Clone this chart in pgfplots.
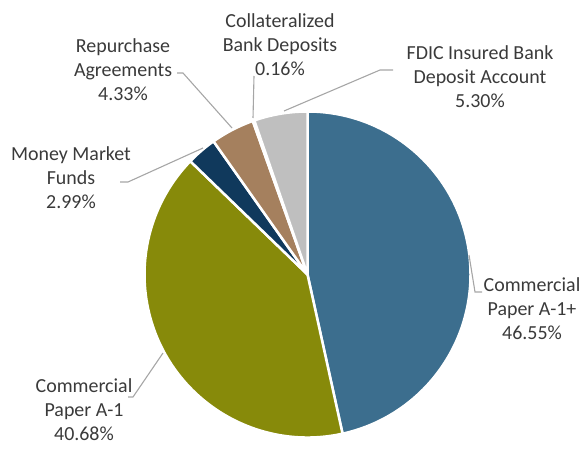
\documentclass[border=0pt]{standalone}
\usepackage{pgfplots}
\usepackage{pgfplotstable}
\pgfplotsset{compat=1.18}
\usepackage{fontspec}
\setmainfont{Carlito}
\definecolor{slice0}{HTML}{3C6E8E}
\definecolor{slice1}{HTML}{878A0A}
\definecolor{slice2}{HTML}{10395C}
\definecolor{slice3}{HTML}{A5805E}
\definecolor{slice4}{HTML}{D9D9D9}
\definecolor{slice5}{HTML}{BFBFBF}
\definecolor{leader}{HTML}{A6A6A6}
\definecolor{txt}{HTML}{3A3A3A}
\pgfplotstableread{
idx value
0 46.55
1 40.68
2 2.99
3 4.33
4 0.16
5 5.30
}\piedata
\begin{document}
\begin{tikzpicture}
\def\cum{0}
\pgfplotsforeachungrouped \i in {0,...,5}{%
  \pgfplotstablegetelem{\i}{value}\of\piedata
  \pgfmathsetmacro{\a}{90-3.6*\cum}%
  \pgfmathsetmacro{\newcum}{\cum+\pgfplotsretval}%
  \pgfmathsetmacro{\b}{90-3.6*\newcum}%
  \expandafter\xdef\csname sa\i\endcsname{\a}%
  \expandafter\xdef\csname ea\i\endcsname{\b}%
  \xdef\cum{\newcum}%
}
\begin{axis}[
  x=1bp, y=1bp, y dir=reverse,
  xmin=0, xmax=585, ymin=0, ymax=441,
  hide axis, scale only axis, clip=false,
]
\pgfplotsforeachungrouped \i in {0,...,5}{%
  \edef\temp{\noexpand\fill[fill=slice\i, draw=white, line width=2.5bp, line join=round]
    (axis cs:307.5,274.5) -- ++(\csname sa\i\endcsname:163bp)
    arc[start angle=\csname sa\i\endcsname, end angle=\csname ea\i\endcsname, radius=163bp] -- cycle;}%
  \temp
}
\path (axis cs:0,0) (axis cs:585,441);
% leader lines
\draw[leader, line width=1.1bp] (axis cs:469,255) -- (axis cs:475,292) -- (axis cs:482,292);
\draw[leader, line width=1.1bp] (axis cs:163,353) -- (axis cs:133,397) -- (axis cs:128,397);
\draw[leader, line width=1.1bp] (axis cs:203,148) -- (axis cs:128,182) -- (axis cs:120,182);
\draw[leader, line width=1.1bp] (axis cs:232,128) -- (axis cs:183,73) -- (axis cs:177,73);
\draw[leader, line width=1.1bp] (axis cs:253,118) -- (axis cs:254,76);
\draw[leader, line width=1.1bp] (axis cs:284,111) -- (axis cs:380,70) -- (axis cs:393,70);
% labels
\tikzset{lab/.style={align=center, text=txt, inner sep=0pt, font=\fontsize{20}{24}\selectfont}}
\node[lab] at (axis cs:532,309) {Commercial\\Paper A-1+\\46.55\%};
\node[lab] at (axis cs:84,410) {Commercial\\Paper A-1\\40.68\%};
\node[lab] at (axis cs:71,178) {Money Market\\Funds\\2.99\%};
\node[lab] at (axis cs:123,70) {Repurchase\\Agreements\\4.33\%};
\node[lab] at (axis cs:280,45) {Collateralized\\Bank Deposits\\0.16\%};
\node[lab] at (axis cs:480,77) {FDIC Insured Bank\\Deposit Account\\5.30\%};
\end{axis}
\end{tikzpicture}
\end{document}
